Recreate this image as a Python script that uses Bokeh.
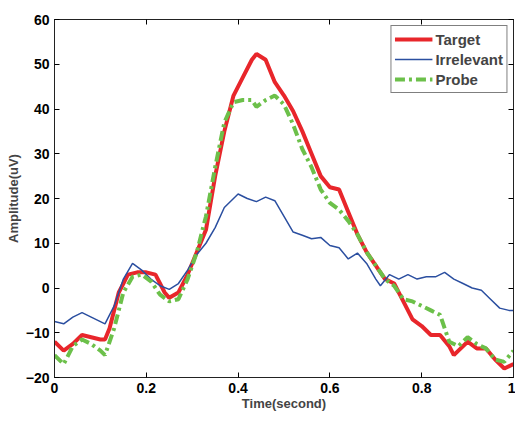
from bokeh.plotting import figure
from bokeh.models import LinearAxis, Range1d, Legend, LegendItem, FixedTicker, CustomJSTickFormatter
from bokeh.embed import file_html
from bokeh.resources import INLINE

t_x = [0,0.02,0.04,0.06,0.08,0.1,0.11,0.12,0.14,0.16,0.18,0.2,0.22,0.24,0.25,0.27,0.29,0.31,0.33,0.35,0.37,0.39,0.41,0.43,0.44,0.46,0.48,0.5,0.52,0.54,0.56,0.58,0.6,0.62,0.64,0.66,0.68,0.7,0.72,0.74,0.76,0.78,0.8,0.82,0.84,0.86,0.87,0.88,0.9,0.92,0.94,0.96,0.98,1.0]
t_y = [-12,-14,-12.5,-10.5,-11,-11.5,-11.5,-9,-1,3,3.5,3.5,3,-1,-2.2,-1,3,8,13,25,35,43,47,51,52.3,51,46,43,39.5,35,30,25,22.5,22,17,12,8,5,2,1,-3,-7,-8.5,-10.5,-10.5,-13,-15,-14,-12,-13.5,-13.5,-16,-18,-17]
i_x = [0,0.02,0.04,0.06,0.08,0.1,0.11,0.13,0.15,0.17,0.19,0.21,0.23,0.25,0.27,0.29,0.31,0.33,0.35,0.37,0.39,0.4,0.42,0.44,0.46,0.48,0.5,0.52,0.54,0.56,0.58,0.6,0.62,0.64,0.66,0.68,0.7,0.71,0.73,0.75,0.77,0.79,0.81,0.83,0.85,0.87,0.89,0.91,0.93,0.95,0.97,0.99,1.0]
i_y = [-7.5,-8,-6.5,-5.5,-6.5,-7.5,-8,-4,2,5.5,4,2,0.5,-0.3,1,4,7.5,10,13.5,18,20,21,20,19.3,20.3,19.5,16,12.5,11.8,11,11.3,9.5,9,6.5,7.8,5.5,2,0.5,3,2,3,2,2.5,2.5,3.5,2,1,0,-0.5,-2.5,-4.5,-5,-5]
p_x = [0,0.02,0.04,0.06,0.08,0.1,0.11,0.13,0.15,0.17,0.19,0.21,0.23,0.25,0.27,0.29,0.31,0.33,0.35,0.37,0.39,0.41,0.43,0.44,0.46,0.48,0.5,0.52,0.54,0.56,0.58,0.6,0.62,0.64,0.66,0.68,0.7,0.72,0.74,0.76,0.78,0.8,0.82,0.84,0.86,0.88,0.9,0.92,0.94,0.96,0.98,1.0]
p_y = [-15,-17,-13,-11.5,-12.5,-14,-15,-9,-1,2.5,3,1.5,-1.5,-3,-2.5,2,8,16,27,37,41.5,42,42,40.5,42,43,41,36.5,31,27,22,19,17.5,15,12,8,5,2,0.5,-2.5,-3,-4,-5,-6,-12,-13,-11,-12.5,-13.5,-16,-16.5,-14]
x_ticks = [0,0.2,0.4,0.6,0.8,1]
y_ticks = [-20,-10,0,10,20,30,40,50,60]

FONT = "Liberation Sans"
p = figure(width=515, height=413, output_backend="svg", toolbar_location=None,
           x_range=Range1d(0, 1), y_range=Range1d(-20, 60),
           min_border_left=54, min_border_right=2, min_border_top=19, min_border_bottom=30)
p.xgrid.visible = False
p.ygrid.visible = False
p.outline_line_color = "#222222"

r1 = p.line(t_x, t_y, line_color="#e8262b", line_width=4)
r2 = p.line(i_x, i_y, line_color="#2b4fa0", line_width=1.5)
r3 = p.line(p_x, p_y, line_color="#6cc04a", line_width=4, line_dash="10 4 3 4")

def style(ax, ticks, labels=True):
    ax.ticker = FixedTicker(ticks=ticks)
    ax.major_tick_in = 5; ax.major_tick_out = 0; ax.minor_tick_line_color = None
    ax.axis_line_color = "#222222"
    ax.major_label_text_font = FONT; ax.major_label_text_font_style = "bold"
    ax.major_label_text_font_size = "14px"; ax.major_label_text_color = "black"
    ax.axis_label_text_font = FONT; ax.axis_label_text_font_style = "bold"
    ax.axis_label_text_font_size = "13px"
    if not labels:
        ax.formatter = CustomJSTickFormatter(code="return ''")
        ax.major_label_standoff = 0

ax_top = LinearAxis(); ax_right = LinearAxis()
p.add_layout(ax_top, "above")
p.add_layout(ax_right, "right")
style(p.below[0], x_ticks); p.below[0].axis_label = "Time(second)"; p.below[0].axis_label_standoff = 0
style(p.left[0], y_ticks); p.left[0].axis_label = "Amplitude(uV)"; p.left[0].axis_label_standoff = 2
style(ax_top, x_ticks, False)
style(ax_right, y_ticks, False)

leg = Legend(items=[LegendItem(label="Target", renderers=[r1]),
                    LegendItem(label="Irrelevant", renderers=[r2]),
                    LegendItem(label="Probe", renderers=[r3])],
             location="top_right", label_text_font=FONT, label_text_font_style="bold",
             label_text_font_size="15px", border_line_color="black", spacing=0,
             padding=3, margin=6, glyph_width=38, label_height=20, glyph_height=20,
             label_standoff=3)
p.add_layout(leg)

open("out.html", "w").write(file_html(p, INLINE))
